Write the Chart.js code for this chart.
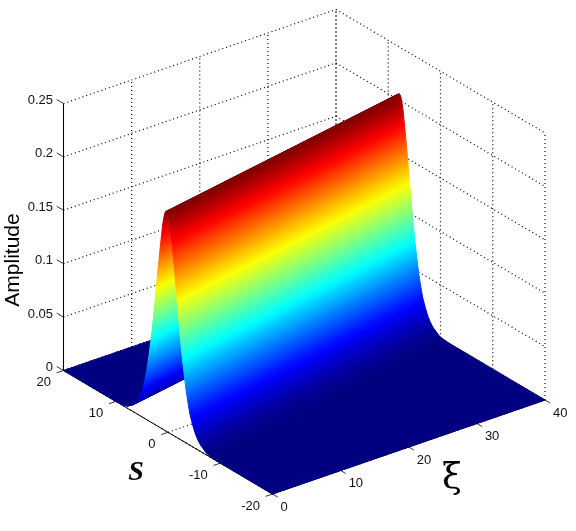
<!DOCTYPE html>
<html>
<head>
<meta charset="utf-8">
<script src="https://cdn.jsdelivr.net/npm/chart.js@4/dist/chart.umd.min.js"></script>
<style>
  html, body { margin: 0; padding: 0; background: #fff; }
  canvas { display: block; }
</style>
</head>
<body>
<canvas id="chart" width="576" height="531"></canvas>
<script>
// tick values of the three axes
const sTicks = [-20, -10, 0, 10, 20];
const xiTicks = [0, 10, 20, 30, 40];
const ampTicks = [0, 0.05, 0.1, 0.15, 0.2, 0.25];
const ampTickLabels = ['0', '0.05', '0.1', '0.15', '0.2', '0.25'];

// the ridge drifts in s as xi grows
const ridgeXi = [0, 40];
const ridgeS = [0.25, 7.9];

// cross section of the ridge
const profileOffsets = [-10, -9, -8, -7.5, -7, -6.5, -6, -5.5, -5, -4.75, -4.5, -4.25, -4, -3.75, -3.5, -3.25, -3, -2.75, -2.5, -2.25, -2, -1.75, -1.5, -1.25, -1, -0.75, -0.5, -0.25, 0, 0.25, 0.5, 0.75, 1, 1.25, 1.5, 1.75, 2, 2.25, 2.5, 2.75, 3, 3.25, 3.5, 3.75, 4, 4.25, 4.5, 4.75, 5, 5.5, 6, 6.5, 7, 7.5, 8, 9, 10];
const profileAmps = [0, 0.0003, 0.001, 0.002, 0.004, 0.006, 0.009, 0.0135, 0.02, 0.024, 0.028, 0.034, 0.041, 0.048, 0.057, 0.067, 0.077, 0.089, 0.101, 0.114, 0.128, 0.142, 0.155, 0.168, 0.18, 0.192, 0.2, 0.205, 0.206, 0.205, 0.2, 0.192, 0.18, 0.168, 0.155, 0.142, 0.128, 0.114, 0.101, 0.089, 0.077, 0.067, 0.057, 0.048, 0.041, 0.034, 0.028, 0.024, 0.02, 0.0135, 0.009, 0.006, 0.004, 0.002, 0.001, 0.0003, 0];

// view of the box: s=20, xi=0, z=0 corner and the pixel step of each axis
// the hidden x/y scales below run 0-576 and 0-531, so these are canvas pixels too
const originX = 63.5, originY = 370.5;
const sStepX = 5.225, sStepY = 3.0875;
const xiStepX = 6.8125, xiStepY = 2.35;
const ampStepY = 1068;

const canvas = document.getElementById('chart');
const ctx2d = canvas.getContext('2d');

function project(s, xi, z) {
  return {
    x: originX + (20 - s) * sStepX + xi * xiStepX,
    y: originY + (20 - s) * sStepY - xi * xiStepY - z * ampStepY
  };
}

function jet(amp) {
  const t = amp / 0.206;
  const part = v => Math.round(255 * Math.min(1, Math.max(0, 1.5 - Math.abs(4 * t - v))));
  return `rgb(${part(3)},${part(2)},${part(1)})`;
}

function polyline(points, color, dash, width) {
  return {
    data: points,
    showLine: true,
    pointRadius: 0,
    borderColor: color,
    borderWidth: width || 1,
    borderDash: dash || [],
    fill: false
  };
}

function gridLine(a, b) {
  return polyline([project(...a), project(...b)], '#000', [1, 3], 1.2);
}

function bandGradient(i) {
  const a = project(ridgeS[0] + profileOffsets[i], ridgeXi[0], profileAmps[i]);
  const a2 = project(ridgeS[1] + profileOffsets[i], ridgeXi[1], profileAmps[i]);
  const b = project(ridgeS[0] + profileOffsets[i + 1], ridgeXi[0], profileAmps[i + 1]);
  const len = Math.hypot(a2.x - a.x, a2.y - a.y);
  const dx = (a2.x - a.x) / len, dy = (a2.y - a.y) / len;
  const along = (b.x - a.x) * dx + (b.y - a.y) * dy;
  const g = ctx2d.createLinearGradient(a.x, a.y, b.x - along * dx, b.y - along * dy);
  g.addColorStop(0, jet(profileAmps[i]));
  g.addColorStop(1, jet(profileAmps[i + 1]));
  return g;
}

function band(i) {
  const corner = (k, n) => project(ridgeS[n] + profileOffsets[k], ridgeXi[n], profileAmps[k]);
  const first = corner(i, 0);
  const fillStyle = bandGradient(i);
  return {
    data: [first, corner(i, 1), corner(i + 1, 1), corner(i + 1, 0), first],
    showLine: true,
    pointRadius: 0,
    borderWidth: 1,
    borderColor: fillStyle,
    backgroundColor: fillStyle,
    fill: 'shape'
  };
}

function ground(edgeS, offset) {
  const first = project(edgeS, ridgeXi[0], 0);
  return {
    data: [first, project(edgeS, ridgeXi[1], 0), project(ridgeS[1] + offset, ridgeXi[1], 0), project(ridgeS[0] + offset, ridgeXi[0], 0), first],
    showLine: true,
    pointRadius: 0,
    borderWidth: 1,
    borderColor: jet(0),
    backgroundColor: jet(0),
    fill: 'shape'
  };
}

const sTop = sTicks[sTicks.length - 1], sLow = sTicks[0];
const xiLow = xiTicks[0], xiTop = xiTicks[xiTicks.length - 1];
const ampTop = ampTicks[ampTicks.length - 1];

// chart.js paints the first dataset last, so nearest things go first
const datasets = [];
datasets.push(ground(sLow, profileOffsets[0]));
for (let i = 0; i < profileOffsets.length - 1; i++) datasets.push(band(i));
datasets.push(ground(sTop, profileOffsets[profileOffsets.length - 1]));

// axes and ticks
datasets.push(polyline([project(sTop, xiLow, 0), project(sTop, xiLow, ampTop)], '#000'));
datasets.push(polyline([project(sTop, xiLow, 0), project(sLow, xiLow, 0)], '#000'));
datasets.push(polyline([project(sLow, xiLow, 0), project(sLow, xiTop, 0)], '#000'));
ampTicks.forEach(a => datasets.push(polyline([project(sTop, xiLow, a), project(sTop + 1.3, xiLow, a)], '#333')));
sTicks.forEach(s => datasets.push(polyline([project(s, xiLow, 0), project(s, xiLow - 1, 0)], '#333')));
xiTicks.forEach(x => datasets.push(polyline([project(sLow, x, 0), project(sLow - 1, x, 0)], '#333')));

// dotted grid on the floor and the two back walls
ampTicks.forEach(a => {
  datasets.push(gridLine([sTop, xiLow, a], [sTop, xiTop, a]));
  datasets.push(gridLine([sTop, xiTop, a], [sLow, xiTop, a]));
});
xiTicks.forEach(x => {
  datasets.push(gridLine([sTop, x, 0], [sTop, x, ampTop]));
  datasets.push(gridLine([sLow, x, 0], [sTop, x, 0]));
});
sTicks.forEach(s => {
  datasets.push(gridLine([s, xiTop, 0], [s, xiTop, ampTop]));
  datasets.push(gridLine([s, xiLow, 0], [s, xiTop, 0]));
});

const axisText = {
  id: 'axisText',
  afterDatasetsDraw(chart) {
    const { ctx, scales } = chart;
    const at = (s, xi, z) => {
      const p = project(s, xi, z);
      return { x: scales.x.getPixelForValue(p.x), y: scales.y.getPixelForValue(p.y) };
    };
    ctx.save();
    ctx.fillStyle = '#111';
    ctx.textBaseline = 'middle';
    ctx.font = '13px "Liberation Sans"';

    ctx.textAlign = 'right';
    ampTicks.forEach((a, i) => {
      const p = at(sTop, xiLow, a);
      ctx.fillText(ampTickLabels[i], p.x - 10.5, p.y - 3);
    });
    sTicks.forEach(s => {
      const p = at(s, xiLow, 0);
      ctx.fillText(String(s), p.x - 12.5, p.y + 12);
    });
    ctx.textAlign = 'left';
    xiTicks.forEach(x => {
      const p = at(sLow, x, 0);
      ctx.fillText(String(x), p.x + 8, p.y + 13);
    });

    ctx.textAlign = 'center';
    ctx.fillStyle = '#000';
    ctx.font = 'italic bold 28px "Liberation Serif"';
    ctx.fillText('S', 136, 473);
    ctx.font = '36px "DejaVu Serif"';
    ctx.fillText('ξ', 452, 479);

    ctx.save();
    ctx.translate(13, 260);
    ctx.rotate(-Math.PI / 2);
    ctx.font = '21px "Liberation Sans"';
    ctx.fillText('Amplitude', 0, 0);
    ctx.restore();
    ctx.restore();
  }
};

new Chart(canvas, {
  type: 'scatter',
  data: { datasets },
  plugins: [axisText],
  options: {
    responsive: false,
    animation: false,
    layout: { padding: 0 },
    plugins: { legend: { display: false }, tooltip: { enabled: false } },
    elements: { line: { tension: 0 } },
    scales: {
      x: { type: 'linear', display: false, min: 0, max: 576 },
      y: { type: 'linear', display: false, min: 0, max: 531, reverse: true }
    }
  }
});
</script>
</body>
</html>
